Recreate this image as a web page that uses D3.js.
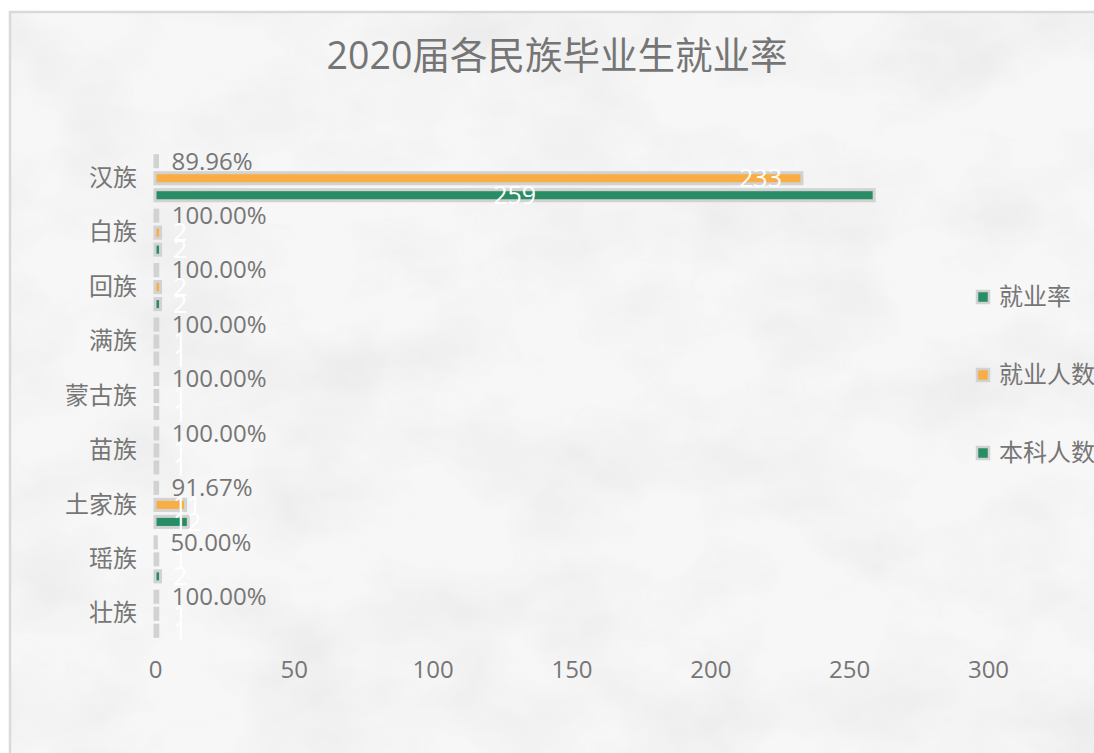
<!DOCTYPE html>
<html><head><meta charset="utf-8">
<script src="https://cdn.jsdelivr.net/npm/d3@7"></script>
<style>
html,body{margin:0;padding:0;background:#fff;overflow:hidden}
text{font-family:"Open Sans","Noto Sans CJK SC",sans-serif}
</style></head>
<body>
<svg id="chart" width="1094" height="753"></svg>
<script>
const categories = ["汉族","白族","回族","满族","蒙古族","苗族","土家族","瑶族","壮族"];
const undergrad = [259, 2, 2, 1, 1, 1, 12, 2, 1];     // 本科人数
const employed  = [233, 2, 2, 1, 1, 1, 11, 1, 1];     // 就业人数
const rate      = [0.8996, 1, 1, 1, 1, 1, 0.9167, 0.5, 1]; // 就业率
const rateLabels = ["89.96%","100.00%","100.00%","100.00%","100.00%","100.00%","91.67%","50.00%","100.00%"];
const xTicks = [0, 50, 100, 150, 200, 250, 300];
const seriesNames = ["就业率","就业人数","本科人数"];
const seriesColors = ["#288c64","#f9ad45","#288c64"];

const svg = d3.select("#chart");
const defs = svg.append("defs");
const f = defs.append("filter").attr("id","paper").attr("x",0).attr("y",0).attr("width","100%").attr("height","100%");
f.append("feTurbulence").attr("type","fractalNoise").attr("baseFrequency","0.008 0.012").attr("numOctaves",4).attr("seed",7).attr("result","n");
f.append("feColorMatrix").attr("in","n").attr("type","matrix")
 .attr("values","0 0 0 0 0.45  0 0 0 0 0.45  0 0 0 0 0.45  0 0 0 -0.3 0.19").attr("result","c");
f.append("feComposite").attr("in","c").attr("in2","SourceGraphic").attr("operator","in");

// chart area
svg.append("rect").attr("x",10).attr("y",12).attr("width",1100).attr("height",760)
  .attr("fill","#f7f7f7").attr("stroke","#d9d9d9").attr("stroke-width",2.5);
svg.append("rect").attr("x",11).attr("y",13).attr("width",1090).attr("height",750)
  .attr("fill","#000").attr("filter","url(#paper)");

svg.append("text").attr("x",557).attr("y",69).attr("text-anchor","middle")
  .attr("font-size",37.5).attr("fill","#757575").text("2020届各民族毕业生就业率");

const x = d3.scaleLinear().domain([0,300]).range([155,988]);
const y = d3.scaleBand().domain(categories).range([151,641]);
const ys = d3.scaleBand().domain(seriesNames).range([0,y.bandwidth()]).paddingInner(0.35).paddingOuter(0.275);

const rows = categories.map((c,i)=>({c, vals:[rate[i], employed[i], undergrad[i]], rl: rateLabels[i]}));

// x axis labels
const xAxis = d3.axisBottom(x).tickValues(xTicks).tickSize(0).tickPadding(0);
const gx = svg.append("g").attr("transform","translate(0,670)").call(xAxis);
gx.select(".domain").remove();
gx.selectAll("text").attr("font-size",24).attr("fill","#767676").attr("dy","0.35em")
  .style("font-family",'"Open Sans","Noto Sans CJK SC",sans-serif');

// y axis labels
const yAxis = d3.axisLeft(y).tickSize(0).tickPadding(0);
const gy = svg.append("g").attr("transform","translate(137,0)").call(yAxis);
gy.select(".domain").remove();
gy.selectAll("text").attr("font-size",24).attr("fill","#767676")
  .style("font-family",'"Noto Sans CJK SC",sans-serif');

const g = svg.append("g");
const cat = g.selectAll("g.cat").data(rows).join("g").attr("class","cat")
  .attr("transform",d=>`translate(0,${y(d.c)})`);

cat.selectAll("rect.bar").data(d=>d.vals.map((v,k)=>({v,k,s:seriesNames[k]}))).join("rect")
  .attr("class","bar")
  .attr("x",x(0)).attr("y",d=>ys(d.s))
  .attr("width",d=>Math.max(0,x(d.v)-x(0))).attr("height",ys.bandwidth())
  .attr("fill",d=>seriesColors[d.k]).attr("stroke","#d2d2d2").attr("stroke-width",3);

// rate labels (outside end)
cat.append("text").attr("x",d=>x(d.vals[0])+14).attr("y",ys("就业率")+ys.bandwidth()/2)
  .attr("dy","0.35em").attr("font-size",24).attr("fill","#767676").text(d=>d.rl);

// count labels (white)
cat.append("text")
  .attr("x",d=>d.vals[1]>100 ? x(d.vals[1])-20 : x(0)+18)
  .attr("text-anchor",d=>d.vals[1]>100 ? "end" : "start")
  .attr("y",ys("就业人数")+ys.bandwidth()/2).attr("dy","0.35em")
  .attr("font-size",25).attr("fill","#fff").text(d=>d.vals[1]);
cat.append("text")
  .attr("x",d=>d.vals[2]>100 ? (x(0)+x(d.vals[2]))/2 : x(0)+18)
  .attr("text-anchor",d=>d.vals[2]>100 ? "middle" : "start")
  .attr("y",ys("本科人数")+ys.bandwidth()/2).attr("dy","0.35em")
  .attr("font-size",25).attr("fill","#fff").text(d=>d.vals[2]);

// legend
const leg = svg.append("g").selectAll("g").data(seriesNames).join("g")
  .attr("transform",(d,i)=>`translate(977,${297+i*78})`);
leg.append("rect").attr("x",0).attr("y",-6).attr("width",12).attr("height",12)
  .attr("fill",(d,i)=>seriesColors[i]).attr("stroke","#d2d2d2").attr("stroke-width",2.5);
leg.append("text").attr("x",22).attr("dy","0.35em").attr("font-size",24).attr("fill","#767676")
  .style("font-family",'"Noto Sans CJK SC",sans-serif').text(d=>d);
</script>
</body></html>
